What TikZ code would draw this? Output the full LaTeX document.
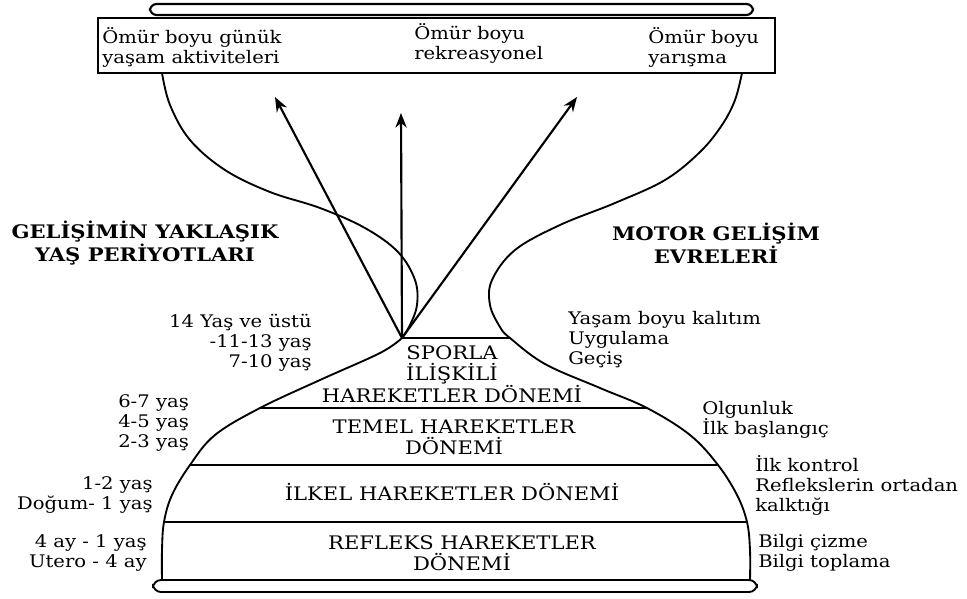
\documentclass[tikz,border=0pt]{standalone}
\usepackage{fontspec}
\setmainfont{DejaVu Serif}[FakeStretch=1.13]
\usetikzlibrary{arrows.meta}
\begin{document}
\begin{tikzpicture}[x=0.75pt,y=-0.75pt,
  outline/.style={line width=1.4pt, line join=round, line cap=round},
  lbl/.style={inner sep=0pt, font=\fontsize{13}{15}\selectfont, align=left},
  lblr/.style={inner sep=0pt, font=\fontsize{13}{15}\selectfont, align=right},
  stage/.style={inner sep=0pt, font=\fontsize{14}{16}\selectfont, align=center},
  head/.style={inner sep=0pt, font=\fontsize{14}{15}\selectfont\bfseries, align=center},
  arr/.style={line width=1.6pt, -{Stealth[length=11pt,width=8.5pt]}}]
\useasboundingbox (0,0) rectangle (967,599);

% top rim and label box
\draw[line width=1.6pt, rounded corners=5pt] (150,4) rectangle (753,15);
\draw[line width=1.3pt] (98,18) rectangle (775,73);
\node[lbl, anchor=west] (life) at (102,47) {Ömür boyu günük\\yaşam aktiviteleri};
\node[lbl, anchor=west] (rec) at (414,43) {Ömür boyu\\rekreasyonel};
\node[lbl, anchor=west] (comp) at (648,47) {Ömür boyu\\yarışma};

% bowl curves
\draw[outline] plot[smooth, tension=0.6] coordinates {(162,73) (170,105) (190,140) (225,170) (270,192) (320,208) (365,228) (398,252) (415,280) (417,305) (410,325) (402,338)};
\draw[outline] plot[smooth, tension=0.6] coordinates {(742,73) (735,100) (722,125) (700,152) (665,180) (615,203) (560,225) (515,250) (492,280) (490,305) (500,327) (510,338) (545,364) (600,388) (647,408) (690,435) (718,465) (737,495) (747,522) (750,550) (750,580)};
\draw[outline] plot[smooth, tension=0.6] coordinates {(402,338) (380,353) (320,380) (260,408) (215,435) (190,465) (172,495) (164,522) (162,550) (162,580)};

% stage dividers
\coordinate (apex) at (402,338);
\coordinate (neckR) at (510,338);
\draw[outline] (apex) -- (neckR);
\draw[outline] (260,408) -- (647,408);
\draw[outline] (190,465) -- (718,465);
\draw[outline] (164,522) -- (747,522);
\draw[line width=1.4pt, rounded corners=6pt] (153,580) rectangle (757,592);

% arrows
\coordinate (tipL) at (275,97);
\coordinate (tipM) at (401,113);
\coordinate (tipR) at (577,97);
\draw[arr] (apex) -- (tipL);
\draw[arr] (apex) -- (tipM);
\draw[arr] (apex) -- (tipR);

% headings
\node[head] (hl) at (145,243) {GELİŞİMİN YAKLAŞIK\\YAŞ PERİYOTLARI};
\node[head] (hr) at (716,243) {MOTOR GELİŞİM\\EVRELERİ};

% stages
\node[stage] (s4) at (452,374) {SPORLA\\İLİŞKİLİ\\HAREKETLER DÖNEMİ};
\node[stage] (s3) at (454,437) {TEMEL HAREKETLER\\DÖNEMİ};
\node[stage] (s2) at (452,492) {İLKEL HAREKETLER DÖNEMİ};
\node[stage] (s1) at (462,553) {REFLEKS HAREKETLER\\DÖNEMİ};

% ages
\node[lblr, anchor=east] (a4) at (312,343) {14 Yaş ve üstü\\-11-13 yaş\\7-10 yaş};
\node[lbl, anchor=west] (a3) at (118,423) {6-7 yaş\\4-5 yaş\\2-3 yaş};
\node[lblr, anchor=east] (a2) at (153,495) {1-2 yaş\\Doğum- 1 yaş};
\node[lblr, anchor=east] (a1) at (147,553) {4 ay - 1 yaş\\Utero - 4 ay};

% phases
\node[lbl, anchor=west] (p4) at (568,340) {Yaşam boyu kalıtım\\Uygulama\\Geçiş};
\node[lbl, anchor=west] (p3) at (702,420) {Olgunluk\\İlk başlangıç};
\node[lbl, anchor=west] (p2) at (755,485) {İlk kontrol\\Reflekslerin ortadan\\kalktığı};
\node[lbl, anchor=west] (p1) at (758,553) {Bilgi çizme\\Bilgi toplama};
\end{tikzpicture}
\end{document}
